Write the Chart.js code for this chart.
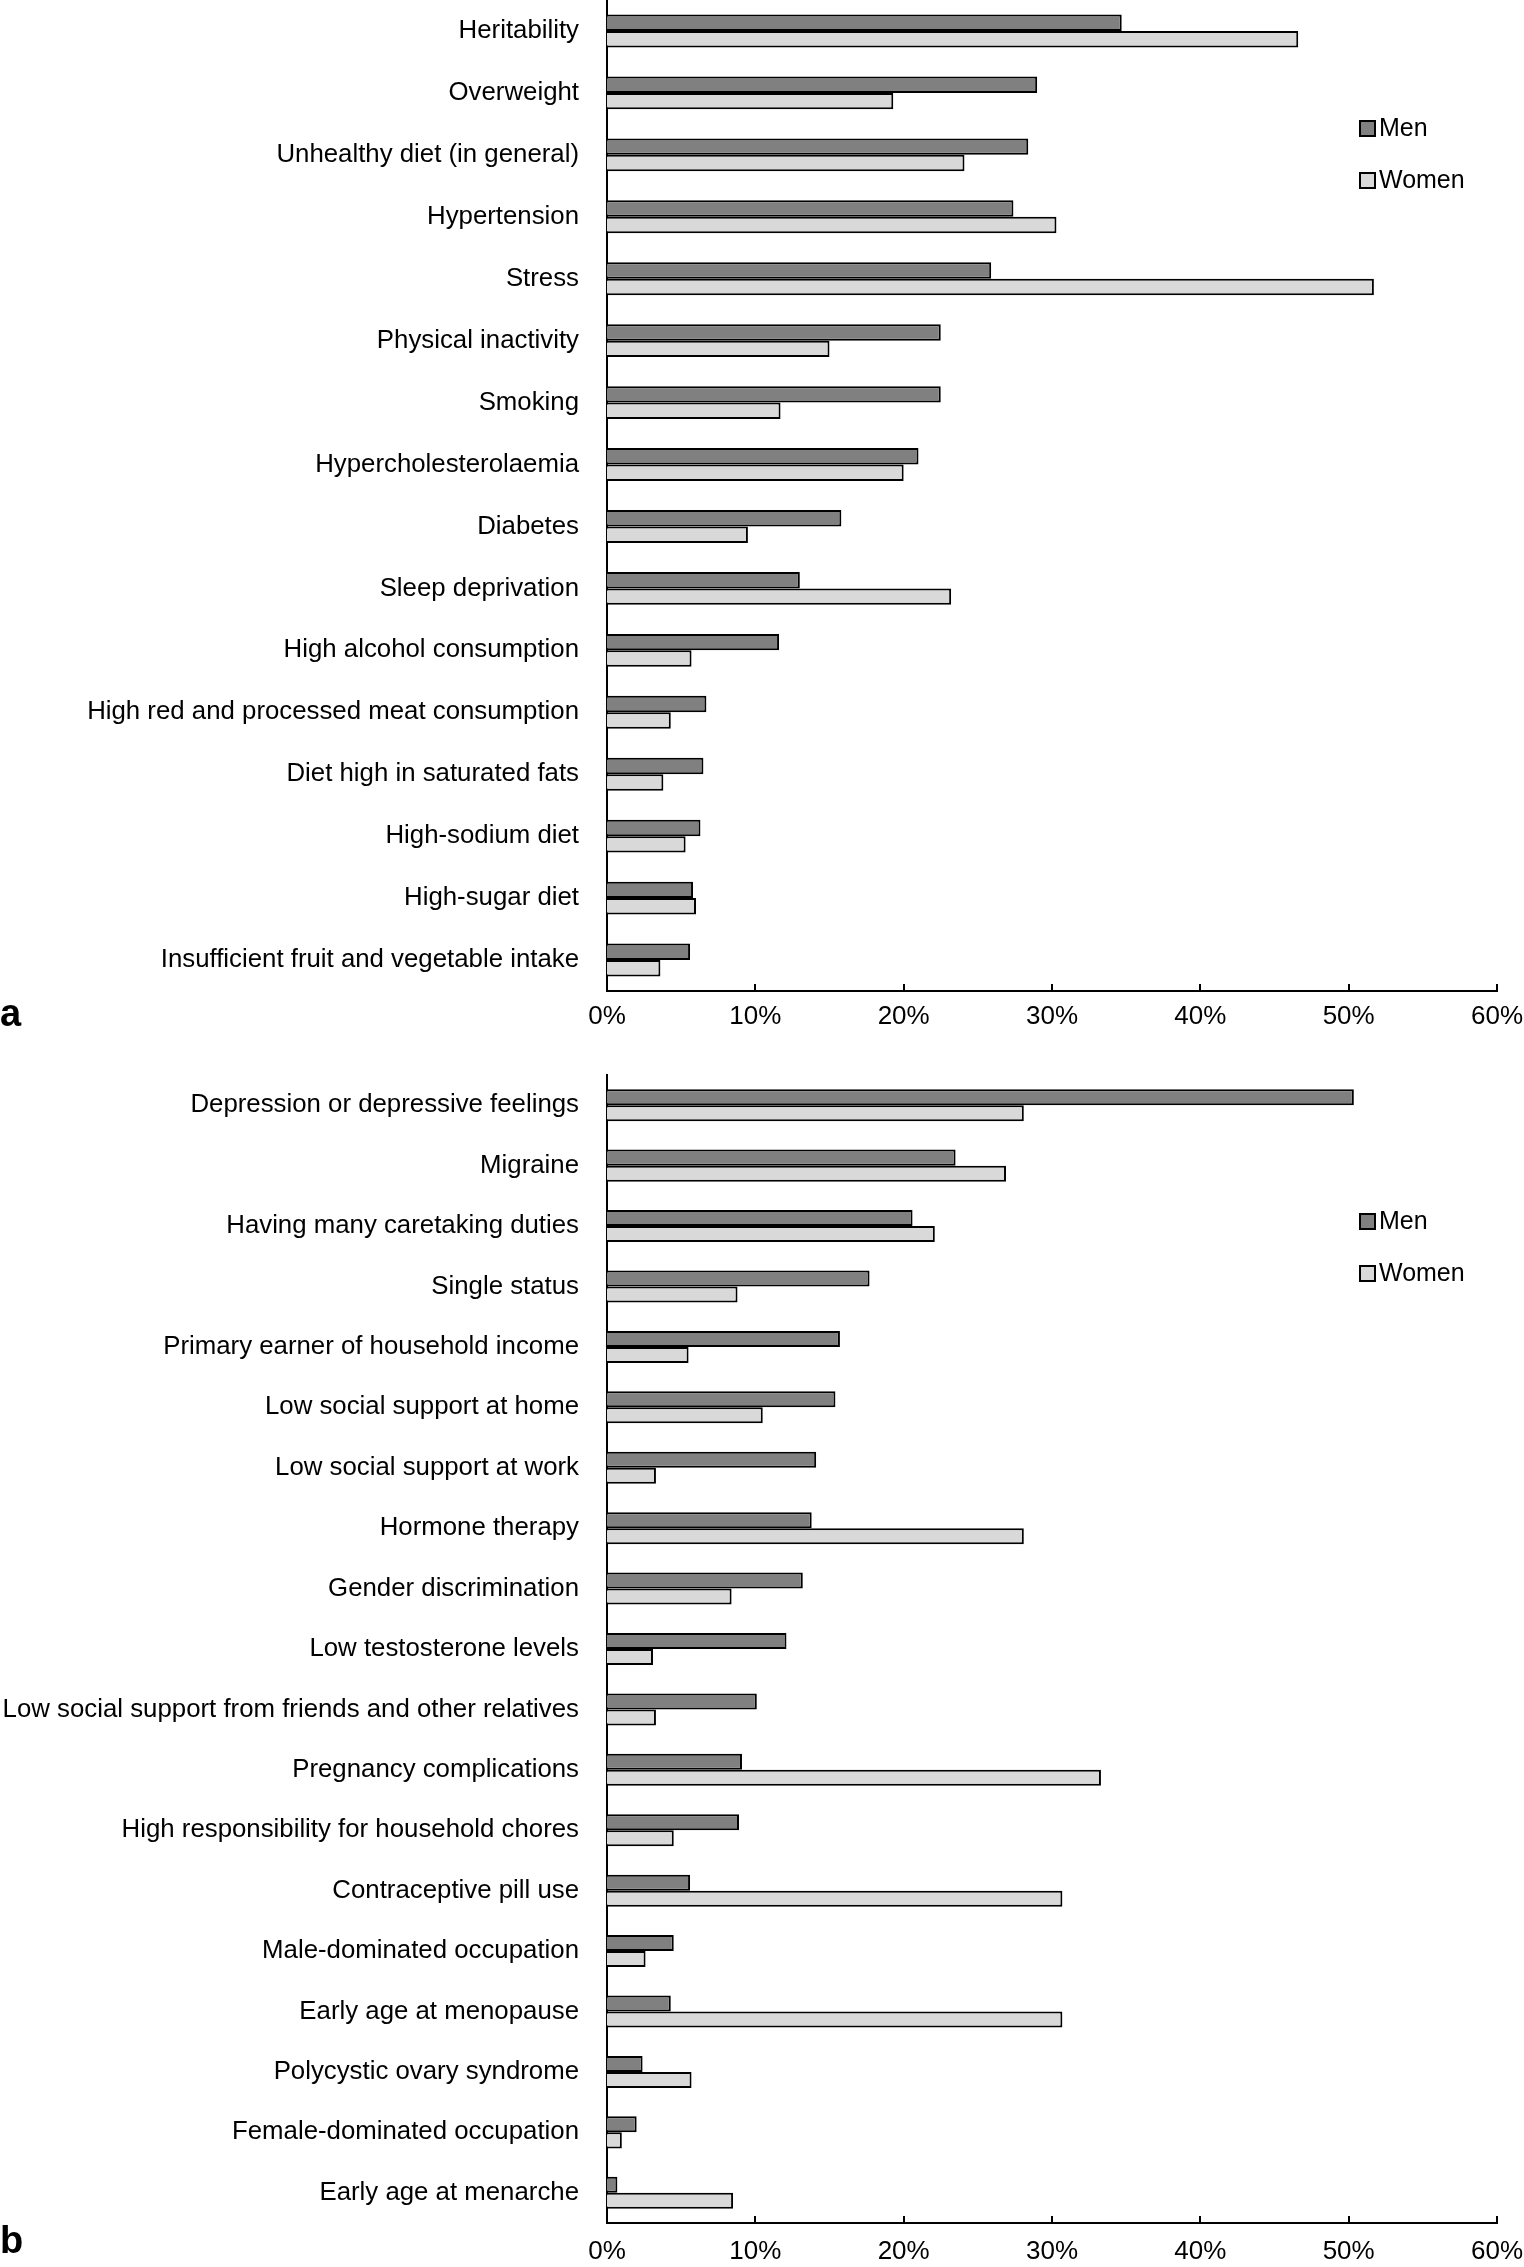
<!DOCTYPE html>
<html>
<head>
<meta charset="utf-8">
<script src="https://cdn.jsdelivr.net/npm/chart.js@4"></script>
<style>
  body { margin: 0; background: #fff; width: 1524px; height: 2267px; position: relative; overflow: hidden; }
  .wrap { position: absolute; left: 0; }
  .panel { position: absolute; left: 0; font: bold 38px "Liberation Sans", Arial, sans-serif; line-height: 1; }
</style>
</head>
<body>
<div class="wrap" style="top:0px"><canvas id="chartA" width="1524" height="1039"></canvas></div>
<div class="wrap" style="top:1060px"><canvas id="chartB" width="1524" height="1211"></canvas></div>
<div class="panel" style="top:994px">a</div>
<div class="panel" style="top:2221px">b</div>
<script>
// panel a - traditional risk factors
var labelsA = ["Heritability", "Overweight", "Unhealthy diet (in general)", "Hypertension", "Stress",
  "Physical inactivity", "Smoking", "Hypercholesterolaemia", "Diabetes", "Sleep deprivation",
  "High alcohol consumption", "High red and processed meat consumption", "Diet high in saturated fats",
  "High-sodium diet", "High-sugar diet", "Insufficient fruit and vegetable intake"];
var menA = [34.7, 29.0, 28.4, 27.4, 25.9, 22.5, 22.5, 21.0, 15.8, 13.0, 11.6, 6.7, 6.5, 6.3, 5.8, 5.6];
var womenA = [46.6, 19.3, 24.1, 30.3, 51.7, 15.0, 11.7, 20.0, 9.5, 23.2, 5.7, 4.3, 3.8, 5.3, 6.0, 3.6];

// panel b - sex-specific / psychosocial factors
var labelsB = ["Depression or depressive feelings", "Migraine", "Having many caretaking duties", "Single status",
  "Primary earner of household income", "Low social support at home", "Low social support at work",
  "Hormone therapy", "Gender discrimination", "Low testosterone levels",
  "Low social support from friends and other relatives", "Pregnancy complications",
  "High responsibility for household chores", "Contraceptive pill use", "Male-dominated occupation",
  "Early age at menopause", "Polycystic ovary syndrome", "Female-dominated occupation", "Early age at menarche"];
var menB = [50.35, 23.5, 20.6, 17.7, 15.7, 15.4, 14.1, 13.8, 13.2, 12.1, 10.1, 9.1, 8.9, 5.6, 4.5, 4.3, 2.4, 2.0, 0.7];
var womenB = [28.1, 26.9, 22.1, 8.8, 5.5, 10.5, 3.3, 28.1, 8.4, 3.1, 3.3, 33.3, 4.5, 30.7, 2.6, 30.7, 5.7, 1.0, 8.5];

var xTicks = [0, 10, 20, 30, 40, 50, 60];

var FONT = '"Liberation Sans", Arial, sans-serif';

// small legend drawn inside the plot area
var sideLegend = {
  id: 'sideLegend',
  afterDraw: function(chart, args, opts) {
    var ctx = chart.ctx;
    ctx.save();
    chart.data.datasets.forEach(function(ds, i) {
      var y = opts.y + i * opts.gap;
      ctx.fillStyle = ds.backgroundColor;
      ctx.fillRect(opts.x, y, 15, 15);
      ctx.lineWidth = 2;
      ctx.strokeStyle = '#000';
      ctx.strokeRect(opts.x, y, 15, 15);
      ctx.fillStyle = '#000';
      ctx.font = '25px ' + FONT;
      ctx.textBaseline = 'middle';
      ctx.fillText(ds.label, opts.x + 19, y + 8);
    });
    ctx.restore();
  }
};

// tick marks pointing up into the plot
var innerTicks = {
  id: 'innerTicks',
  afterDraw: function(chart) {
    var x = chart.scales.x, ctx = chart.ctx;
    ctx.save();
    ctx.strokeStyle = '#000';
    ctx.lineWidth = 2;
    xTicks.forEach(function(v) {
      var px = Math.round(x.getPixelForValue(v));
      ctx.beginPath();
      ctx.moveTo(px, x.top);
      ctx.lineTo(px, x.top - 7);
      ctx.stroke();
    });
    ctx.restore();
  }
};

function makeChart(id, labels, men, women, topPad, legendY, tickPad) {
  return new Chart(document.getElementById(id).getContext('2d'), {
    type: 'bar',
    data: {
      labels: labels,
      datasets: [{
        label: 'Men',
        data: men,
        backgroundColor: '#808080',
        borderColor: '#000000',
        borderWidth: 2,
        categoryPercentage: 0.53,
        barPercentage: 1.0
      }, {
        label: 'Women',
        data: women,
        backgroundColor: '#d9d9d9',
        borderColor: '#000000',
        borderWidth: 2,
        categoryPercentage: 0.53,
        barPercentage: 1.0
      }]
    },
    options: {
      indexAxis: 'y',
      responsive: false,
      animation: false,
      layout: { autoPadding: false, padding: { top: topPad, right: 27, left: 0, bottom: 0 } },
      plugins: {
        legend: { display: false },
        tooltip: { enabled: false },
        sideLegend: { x: 1360, y: legendY, gap: 52 }
      },
      scales: {
        x: {
          min: 0, max: 60,
          grid: { display: false, drawTicks: false },
          border: { display: true, color: '#000', width: 2 },
          afterBuildTicks: function(s) { s.ticks = xTicks.map(function(v) { return { value: v }; }); },
          afterFit: function(s) { s.height = 48; s.paddingLeft = 0; s.paddingRight = 0; },
          ticks: {
            padding: tickPad,
            color: '#000',
            font: { family: FONT, size: 26 },
            callback: function(v) { return v + '%'; }
          }
        },
        y: {
          grid: { display: false, drawTicks: false },
          border: { display: true, color: '#000', width: 2 },
          afterFit: function(s) { s.width = 607; s.paddingTop = 0; s.paddingBottom = 0; },
          ticks: {
            padding: 28,
            color: '#000',
            autoSkip: false,
            font: { family: FONT, size: 25.8 }
          }
        }
      }
    },
    plugins: [sideLegend, innerTicks]
  });
}

makeChart('chartA', labelsA, menA, womenA, 0, 121, 10);
makeChart('chartB', labelsB, menB, womenB, 15, 154, 13);
</script>
</body>
</html>
